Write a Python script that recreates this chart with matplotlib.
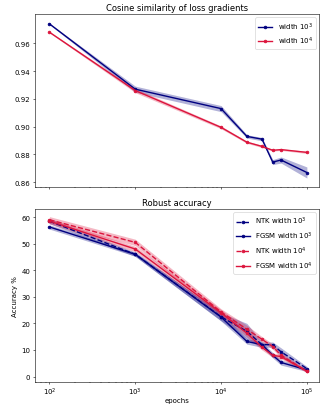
import matplotlib
matplotlib.use('Agg')
import matplotlib.pyplot as plt
import numpy as np

# epochs
epochs = [1e2, 1e3, 1e4, 2e4, 3e4, 4e4, 5e4, 1e5]

# cosine similarity of loss gradients (mean, std)
cos_w3 = [0.974, 0.927, 0.913, 0.893, 0.891, 0.8745, 0.876, 0.867]
cos_w3_std = [0.0005, 0.0022, 0.0022, 0.0012, 0.0012, 0.0018, 0.0022, 0.004]
cos_w4 = [0.968, 0.926, 0.8995, 0.8888, 0.8858, 0.883, 0.8835, 0.8815]
cos_w4_std = [0.0005, 0.0015, 0.001, 0.0008, 0.0008, 0.0006, 0.0006, 0.0008]

# robust accuracy (mean, std)
ntk_w3 = [58.5, 46.0, 22.5, 17.0, 12.0, 12.0, 9.3, 3.0]
ntk_w3_std = [1.0, 0.8, 1.5, 3.0, 1.0, 1.0, 1.5, 0.8]
fgsm_w3 = [56.3, 46.0, 22.4, 13.2, 12.0, 8.0, 5.3, 2.5]
fgsm_w3_std = [0.8, 0.7, 1.5, 1.0, 1.0, 1.0, 1.0, 0.6]
ntk_w4 = [59.0, 50.5, 24.3, 17.8, 14.0, 11.3, 8.0, 2.0]
ntk_w4_std = [1.2, 1.2, 1.2, 1.5, 1.0, 1.0, 1.0, 0.5]
fgsm_w4 = [58.5, 48.0, 24.0, 16.3, 11.0, 8.0, 7.5, 2.0]
fgsm_w4_std = [1.0, 1.0, 1.2, 1.5, 1.0, 0.8, 0.8, 0.5]

blue = '#000080'
red = '#dc143c'

fig, (ax1, ax2) = plt.subplots(2, 1, figsize=(6.56, 8.12), dpi=50, sharex=True)
fig.subplots_adjust(left=0.107, right=0.973, top=0.963, bottom=0.057, hspace=0.127)


def band(ax, y, s, c, ls, label):
    y = np.array(y)
    s = np.array(s)
    ax.plot(epochs, y, ls, color=c, marker='o', markersize=4, linewidth=2, label=label)
    ax.fill_between(epochs, y - s, y + s, color=c, alpha=0.3, linewidth=0)


# 1st plot - cosine similarity
band(ax1, cos_w3, cos_w3_std, blue, '-', r'width $10^3$')
band(ax1, cos_w4, cos_w4_std, red, '-', r'width $10^4$')
ax1.set_xscale('log')
ax1.set_title('Cosine similarity of loss gradients')
ax1.set_yticks([0.86, 0.88, 0.90, 0.92, 0.94, 0.96])
ax1.set_ylim(0.8566, 0.9811)
ax1.tick_params(labelbottom=False)
ax1.legend(loc='upper right')

# 2nd plot - robust accuracy
band(ax2, ntk_w3, ntk_w3_std, blue, '--', r'NTK width $10^3$')
band(ax2, fgsm_w3, fgsm_w3_std, blue, '-', r'FGSM width $10^3$')
band(ax2, ntk_w4, ntk_w4_std, red, '--', r'NTK width $10^4$')
band(ax2, fgsm_w4, fgsm_w4_std, red, '-', r'FGSM width $10^4$')
ax2.set_xscale('log')
ax2.set_title('Robust accuracy')
ax2.set_ylabel('Accuracy %')
ax2.set_xlabel('epochs', labelpad=0)
ax2.tick_params(axis='x', pad=2)
ax2.set_ylim(-2, 63.1)
ax2.legend(loc='upper right')
ax2.set_xlim(68, 1.39e5)

plt.savefig('out.png', dpi=50)
